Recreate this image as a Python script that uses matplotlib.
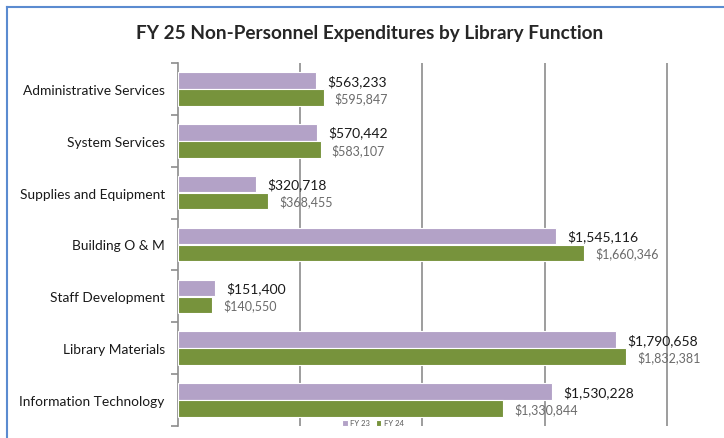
import numpy as np
import matplotlib.pyplot as plt
from matplotlib.lines import Line2D

plt.rcParams['font.family'] = ['Lato', 'DejaVu Sans']

categories = ["Administrative Services", "System Services", "Supplies and Equipment",
              "Building O & M", "Staff Development", "Library Materials",
              "Information Technology"]
fy23 = [563233, 570442, 320718, 1545116, 151400, 1790658, 1530228]
fy24 = [595847, 583107, 368455, 1660346, 140550, 1832381, 1330844]

purple = "#B3A2C7"
green = "#77933C"

fig = plt.figure(figsize=(7.24, 4.39), dpi=100)
ax = fig.add_axes([178/724, 1 - 427/439, (700 - 178)/724, (427 - 64)/439])

y = np.arange(len(categories))
h = 0.32
b1 = ax.barh(y - 0.165, fy23, height=h, color=purple, edgecolor="white", linewidth=0.8,
             label="FY 23", zorder=3)
b2 = ax.barh(y + 0.165, fy24, height=h, color=green, edgecolor="white", linewidth=0.8,
             label="FY 24", zorder=3)

for yy, v in zip(y, fy23):
    ax.annotate(f"${v:,.0f}", (v, yy - 0.165), xytext=(8, 0), textcoords="offset points",
                va="center", ha="left", fontsize=10, color="#1a1a1a")
for yy, v in zip(y, fy24):
    ax.annotate(f"${v:,.0f}", (v, yy + 0.165), xytext=(8, 0), textcoords="offset points",
                va="center", ha="left", fontsize=9, color="#6b6b6b")

ax.set_xlim(0, 2135000)
ax.set_ylim(len(categories) - 0.5, -0.5)

# gridlines
ax.set_xticks([500000, 1000000, 1500000, 2000000])
ax.xaxis.grid(True, color="#8c8c8c", linewidth=1.2, zorder=0)
ax.tick_params(axis="x", length=0, labelbottom=False)

# category labels in the middle, tick marks on the boundaries
ax.set_yticks(y)
ax.set_yticklabels(categories, fontsize=9.9, color="#1a1a1a")
ax.tick_params(axis="y", which="major", length=0, pad=9.5)
ax.set_yticks(np.arange(-0.5, len(categories)), minor=True)
ax.tick_params(axis="y", which="minor", length=5, width=1.2, color="#8c8c8c")

for s in ["top", "right", "bottom"]:
    ax.spines[s].set_visible(False)
ax.spines["left"].set_color("#8c8c8c")
ax.spines["left"].set_linewidth(1.2)

fig.text(370/724, 1 - 34/439, "FY 25 Non-Personnel Expenditures by Library Function",
         ha="center", va="center", fontsize=13.7, fontweight="bold", color="#262626")

fig.legend(handles=[b1, b2], loc="center", bbox_to_anchor=(373/724, 1 - 424/439),
           ncol=2, frameon=False, fontsize=5.5, handlelength=0.7, handleheight=0.7,
           columnspacing=0.8, handletextpad=0.3, labelcolor="#595959")

# blue frame of the chart
fig.add_artist(Line2D([7/724, 1], [1 - 8/439, 1 - 8/439], color="#5B8BD0", linewidth=1.5))
fig.add_artist(Line2D([7/724, 7/724], [0, 1 - 8/439], color="#5B8BD0", linewidth=1.5))

fig.savefig("out.png", dpi=100)
